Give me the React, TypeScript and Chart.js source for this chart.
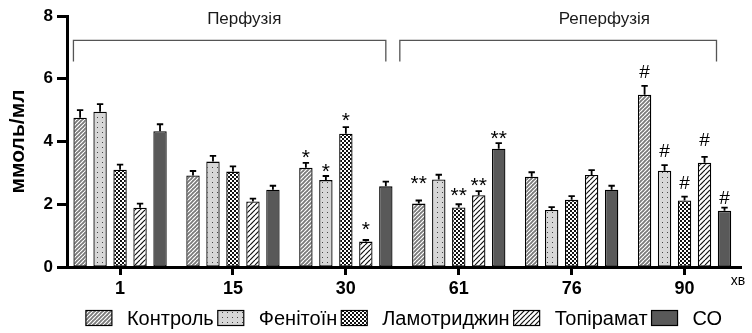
import React, { useEffect, useRef } from 'react';
import { Chart, registerables } from 'chart.js';

Chart.register(...registerables);

// ---------- data ----------
const categories = ['1', '15', '30', '61', '76', '90'];
const seriesNames = ['Контроль', 'Фенітоїн', 'Ламотриджин', 'Топірамат', 'СО'];

const control = [4.76, 2.92, 3.16, 2.02, 2.88, 5.49];
const controlErr = [0.24, 0.14, 0.16, 0.1, 0.14, 0.28];
const phenytoin = [4.95, 3.36, 2.77, 2.79, 1.82, 3.07];
const phenytoinErr = [0.24, 0.18, 0.13, 0.15, 0.09, 0.18];
const lamotrigine = [3.1, 3.04, 4.25, 1.9, 2.14, 2.12];
const lamotrigineErr = [0.16, 0.17, 0.21, 0.1, 0.12, 0.12];
const topiramate = [1.89, 2.09, 0.81, 2.29, 2.93, 3.32];
const topiramateErr = [0.13, 0.09, 0.05, 0.13, 0.16, 0.19];
const co = [4.33, 2.46, 2.57, 3.77, 2.46, 1.79];
const coErr = [0.22, 0.13, 0.15, 0.18, 0.13, 0.1];

// significance marks and the value level of their centre
const controlMarks = ['', '', '*', '**', '', '#'];
const controlMarkAt = [0, 0, 3.68, 2.85, 0, 6.24];
const phenytoinMarks = ['', '', '*', '', '', '#'];
const phenytoinMarkAt = [0, 0, 3.25, 0, 0, 3.72];
const lamotrigineMarks = ['', '', '*', '**', '', '#'];
const lamotrigineMarkAt = [0, 0, 4.86, 2.46, 0, 2.72];
const topiramateMarks = ['', '', '*', '**', '', '#'];
const topiramateMarkAt = [0, 0, 1.38, 2.78, 0, 4.06];
const coMarks = ['', '', '', '**', '', '#'];
const coMarkAt = [0, 0, 0, 4.3, 0, 2.24];

// period brackets (in category units / value units)
const periodLabels = ['Перфузія', 'Реперфузія'];
const periodFrom = [-0.413, 2.478];
const periodTo = [2.354, 5.283];
const periodLabelX = [1.1, 4.29];
const bracketLevel = 7.22;
const bracketFootLevel = 6.55;
const periodLabelLevel = 7.89;

const yTicks = [0, 2, 4, 6, 8];
const yTitle = 'ммоль/мл';
const xUnit = 'хв';

const FONT = "'Liberation Sans', Arial, sans-serif";

function makePattern(kind: string): CanvasPattern | string {
  const c = document.createElement('canvas');
  const ctx = c.getContext('2d')!;
  if (kind === 'stripeGray' || kind === 'stripeWhite') {
    const s = kind === 'stripeGray' ? 4 : 5;
    c.width = s; c.height = s;
    ctx.fillStyle = kind === 'stripeGray' ? '#7a7a7a' : '#ffffff';
    ctx.fillRect(0, 0, s, s);
    ctx.strokeStyle = kind === 'stripeGray' ? '#ffffff' : '#111111';
    ctx.lineWidth = 1.2;
    for (const k of [-s, 0, s]) {
      ctx.beginPath();
      ctx.moveTo(k, s);
      ctx.lineTo(k + s, 0);
      ctx.stroke();
    }
  } else if (kind === 'checker') {
    c.width = 4; c.height = 4;
    ctx.fillStyle = '#ffffff';
    ctx.fillRect(0, 0, 4, 4);
    ctx.fillStyle = '#111111';
    ctx.fillRect(0, 0, 2, 2);
    ctx.fillRect(2, 2, 2, 2);
  } else if (kind === 'dots') {
    c.width = 5; c.height = 5;
    ctx.fillStyle = '#d7d7d7';
    ctx.fillRect(0, 0, 5, 5);
    ctx.fillStyle = '#444444';
    ctx.fillRect(2, 2, 1, 1);
  } else {
    return '#595959';
  }
  return ctx.createPattern(c, 'repeat')!;
}

export default function App() {
  const ref = useRef<HTMLCanvasElement | null>(null);

  useEffect(() => {
    document.body.style.margin = '0';
    const canvas = ref.current!;
    const values = [control, phenytoin, lamotrigine, topiramate, co];
    const errs = [controlErr, phenytoinErr, lamotrigineErr, topiramateErr, coErr];
    const marks = [controlMarks, phenytoinMarks, lamotrigineMarks, topiramateMarks, coMarks];
    const markAt = [controlMarkAt, phenytoinMarkAt, lamotrigineMarkAt, topiramateMarkAt, coMarkAt];
    const kinds = ['stripeGray', 'dots', 'checker', 'stripeWhite', 'solid'];
    const fills = kinds.map(makePattern);

    const annot = {
      id: 'annot',
      afterDatasetsDraw(chart: any) {
        const { ctx, chartArea } = chart;
        const xs = chart.scales.x;
        const ys = chart.scales.y;
        ctx.save();
        // error bars
        ctx.strokeStyle = '#000';
        ctx.lineWidth = 1.8;
        values.forEach((vals, d) => {
          const meta = chart.getDatasetMeta(d);
          meta.data.forEach((el: any, i: number) => {
            const top = ys.getPixelForValue(vals[i] + errs[d][i]);
            ctx.beginPath();
            ctx.moveTo(el.x, el.y);
            ctx.lineTo(el.x, top);
            ctx.moveTo(el.x - 3.2, top);
            ctx.lineTo(el.x + 3.2, top);
            ctx.stroke();
          });
        });
        // significance marks
        ctx.fillStyle = '#000';
        ctx.textAlign = 'center';
        ctx.textBaseline = 'alphabetic';
        values.forEach((vals, d) => {
          const meta = chart.getDatasetMeta(d);
          meta.data.forEach((el: any, i: number) => {
            const m = marks[d][i];
            if (!m) return;
            const cy = ys.getPixelForValue(markAt[d][i]);
            const star = m.startsWith('*');
            const size = star ? 21 : 19;
            ctx.font = `${size}px ${FONT}`;
            const k = star ? 0.6 : 0.36;
            ctx.fillText(m, el.x, cy + k * size);
          });
        });
        // brackets and period labels
        ctx.strokeStyle = '#555';
        ctx.lineWidth = 1.3;
        const by = ys.getPixelForValue(bracketLevel);
        const fy = ys.getPixelForValue(bracketFootLevel);
        periodLabels.forEach((lab, p) => {
          const x0 = xs.getPixelForValue(periodFrom[p]);
          const x1 = xs.getPixelForValue(periodTo[p]);
          ctx.beginPath();
          ctx.moveTo(x0, fy);
          ctx.lineTo(x0, by);
          ctx.lineTo(x1, by);
          ctx.lineTo(x1, fy);
          ctx.stroke();
          ctx.fillStyle = '#1a1a1a';
          ctx.font = `17px ${FONT}`;
          ctx.textBaseline = 'middle';
          ctx.fillText(lab, xs.getPixelForValue(periodLabelX[p]), ys.getPixelForValue(periodLabelLevel));
        });
        // unit label
        ctx.fillStyle = '#000';
        ctx.font = `14px ${FONT}`;
        ctx.textBaseline = 'middle';
        ctx.textAlign = 'center';
        ctx.fillText(xUnit, chartArea.right - 3, chartArea.bottom + 14);
        // legend
        const lFont = 20;
        ctx.font = `${lFont}px ${FONT}`;
        const boxW = 26, boxH = 15, gap1 = 15, gap2 = 4;
        const widths = seriesNames.map((n) => ctx.measureText(n).width);
        const total = widths.reduce((a, w) => a + boxW + gap1 + w, 0) + gap2 * (seriesNames.length - 1);
        let x = (chartArea.left + chartArea.right) / 2 - total / 2;
        const ly = 318;
        seriesNames.forEach((n, d) => {
          ctx.fillStyle = fills[d] as any;
          ctx.fillRect(x, ly - boxH / 2, boxW, boxH);
          ctx.strokeStyle = '#000';
          ctx.lineWidth = 1.2;
          ctx.strokeRect(x, ly - boxH / 2, boxW, boxH);
          ctx.fillStyle = '#000';
          ctx.textAlign = 'left';
          ctx.textBaseline = 'middle';
          ctx.fillText(n, x + boxW + gap1, ly + 1);
          x += boxW + gap1 + widths[d] + gap2;
        });
        ctx.restore();
      },
    };

    const chart = new Chart(canvas, {
      type: 'bar',
      data: {
        datasets: seriesNames.map((name, d) => ({
          label: name,
          data: values[d].map((v, i) => ({ x: i, y: v })),
          backgroundColor: fills[d] as any,
          borderColor: '#000',
          borderWidth: 1.3,
          borderSkipped: false,
          categoryPercentage: 0.885,
          barPercentage: 0.67,
        })),
      },
      options: {
        animation: false,
        responsive: false,
        devicePixelRatio: 1,
        layout: { padding: { top: 16, right: 11, left: 0, bottom: 36 } },
        plugins: { legend: { display: false }, tooltip: { enabled: false } },
        scales: {
          x: {
            type: 'linear',
            min: -0.47,
            max: 5.5,
            offset: false,
            afterFit: (s: any) => { s.height = 30; },
            ticks: {
              stepSize: 1,
              includeBounds: false,
              autoSkip: false,
              maxRotation: 0,
              padding: 3,
              color: '#000',
              font: { family: FONT, size: 18, weight: 'bold' },
              callback: (v: any) => categories[v] ?? '',
            },
            grid: { offset: false, drawOnChartArea: false, drawTicks: true, tickLength: 8, tickWidth: 3, tickColor: '#000' },
            border: { display: true, color: '#000', width: 3 },
          },
          y: {
            min: 0,
            max: 8,
            afterFit: (s: any) => { s.width = 67; },
            afterBuildTicks: (s: any) => { s.ticks = yTicks.map((v) => ({ value: v })); },
            ticks: {
              padding: 4,
              color: '#000',
              font: { family: FONT, size: 17, weight: 'bold' },
            },
            title: {
              display: true,
              text: yTitle,
              color: '#000',
              font: { family: FONT, size: 21, weight: 'bold' },
              padding: { top: 6, bottom: 0 },
            },
            grid: { drawOnChartArea: false, drawTicks: true, tickLength: 10, tickWidth: 3, tickColor: '#000' },
            border: { display: true, color: '#000', width: 3 },
          },
        },
      },
      plugins: [annot],
    } as any);
    return () => chart.destroy();
  }, []);

  return <canvas ref={ref} width={752} height={333} style={{ display: 'block' }} />;
}
